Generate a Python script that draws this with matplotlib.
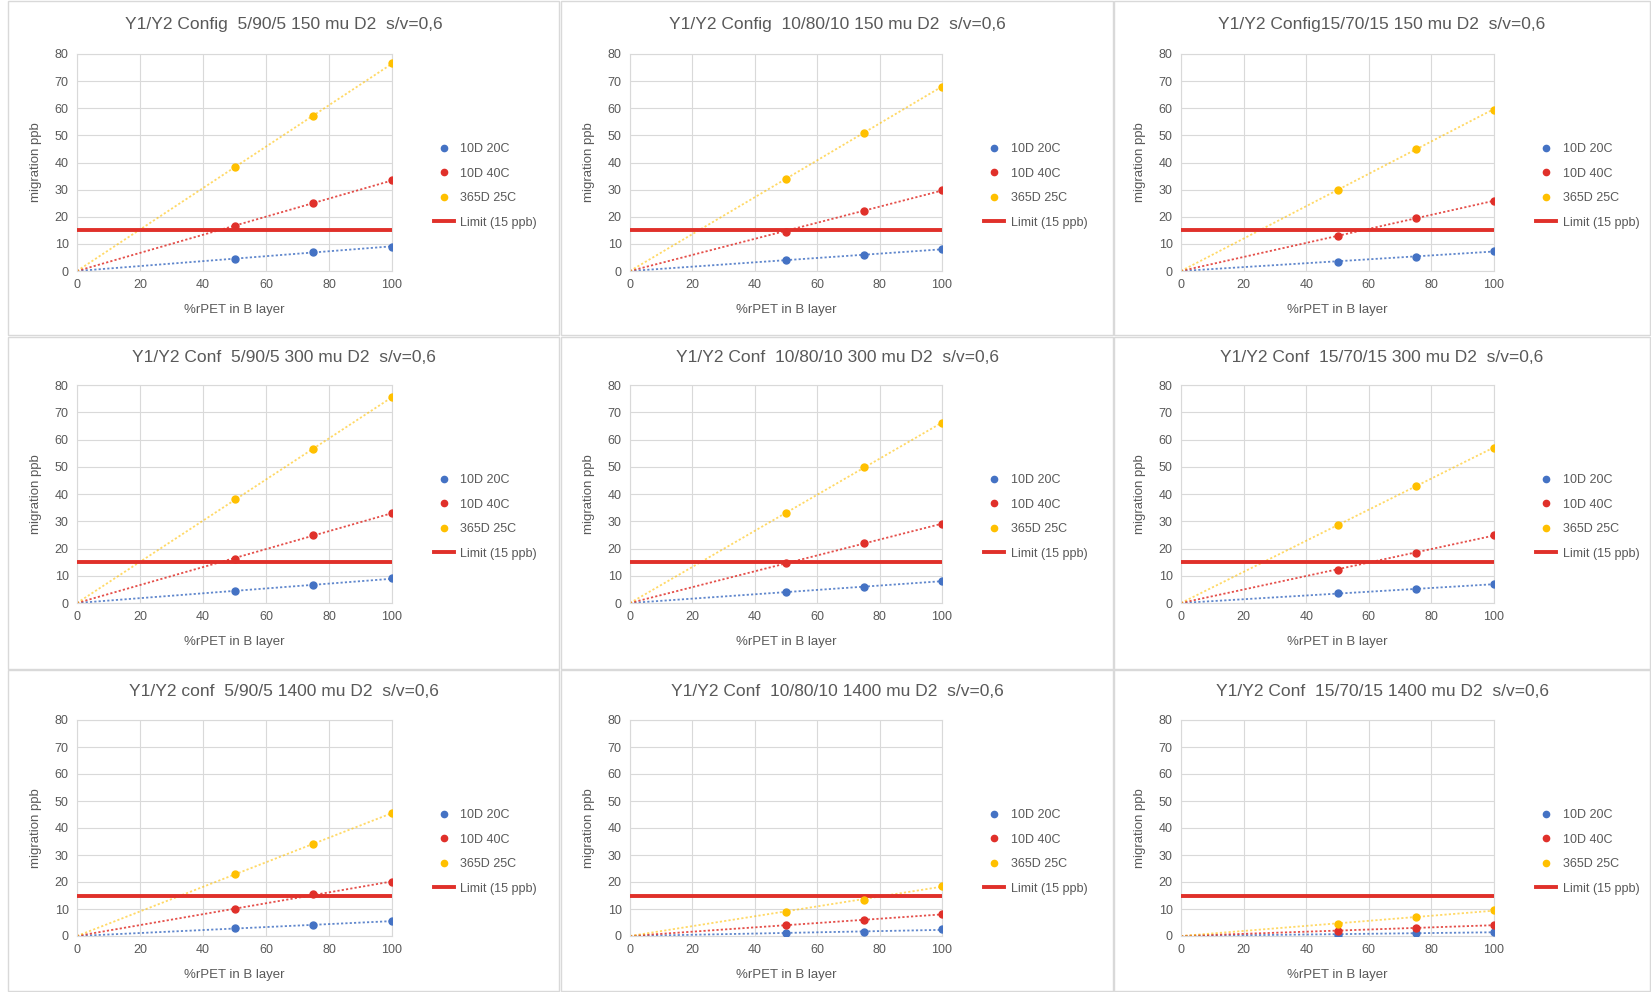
import numpy as np
import matplotlib
matplotlib.use("Agg")
import matplotlib.pyplot as plt
from matplotlib.patches import Rectangle
from matplotlib.lines import Line2D

plt.rcParams['font.family'] = ['Liberation Sans', 'DejaVu Sans']

# ---------------- data ----------------
x_rpet = [50, 75, 100]
series_names = ["10D 20C", "10D 40C", "365D 25C"]
limit_label = "Limit (15 ppb)"
limit_x = [0, 100]
limit_y = [15, 15]

titles = [
    "Y1/Y2 Config  5/90/5 150 mu D2  s/v=0,6",
    "Y1/Y2 Config  10/80/10 150 mu D2  s/v=0,6",
    "Y1/Y2 Config15/70/15 150 mu D2  s/v=0,6",
    "Y1/Y2 Conf  5/90/5 300 mu D2  s/v=0,6",
    "Y1/Y2 Conf  10/80/10 300 mu D2  s/v=0,6",
    "Y1/Y2 Conf  15/70/15 300 mu D2  s/v=0,6",
    "Y1/Y2 conf  5/90/5 1400 mu D2  s/v=0,6",
    "Y1/Y2 Conf  10/80/10 1400 mu D2  s/v=0,6",
    "Y1/Y2 Conf  15/70/15 1400 mu D2  s/v=0,6",
]

d10_20c = [
    [4.5, 7.0, 9.0],
    [4.0, 6.0, 8.0],
    [3.5, 5.3, 7.3],
    [4.5, 6.5, 9.0],
    [4.0, 6.0, 8.0],
    [3.5, 5.0, 7.0],
    [3.0, 4.0, 5.5],
    [1.0, 1.5, 2.5],
    [0.5, 1.0, 1.5],
]
d10_40c = [
    [16.5, 25.0, 33.5],
    [14.5, 22.0, 30.0],
    [13.0, 19.5, 25.8],
    [16.0, 25.0, 33.0],
    [14.5, 22.0, 29.0],
    [12.0, 18.5, 25.0],
    [10.0, 15.5, 20.0],
    [4.0, 6.0, 8.0],
    [2.0, 3.0, 4.0],
]
d365_25c = [
    [38.5, 57.0, 76.5],
    [34.0, 51.0, 68.0],
    [30.0, 45.0, 59.5],
    [38.0, 56.5, 75.5],
    [33.0, 50.0, 66.0],
    [28.5, 43.0, 57.0],
    [23.0, 34.0, 45.5],
    [9.0, 13.5, 18.5],
    [4.5, 7.0, 9.5],
]

# ---------------- style / layout ----------------
W, H = 1651, 992
colors = ["#4472C4", "#E0302A", "#FFC000"]
trend_alpha = [0.85, 0.85, 0.6]
limit_color = "#E0302A"
text_color = "#595959"
grid_color = "#D9D9D9"

col_x = [(77, 392), (630, 942), (1181, 1494)]
row_y = [(54, 271), (385, 603), (720, 936)]
panel_cols = [(8, 559), (561, 1113), (1114, 1650)]
panel_rows = [(1, 335), (337, 669), (670, 991)]
title_y = [25, 358, 692]

fig = plt.figure(figsize=(W / 100, H / 100), dpi=100)
fig.patch.set_facecolor("white")

# panel frames
for (px0, px1) in panel_cols:
    for (py0, py1) in panel_rows:
        fig.patches.append(Rectangle((px0 / W, 1 - py1 / H), (px1 - px0) / W, (py1 - py0) / H,
                                     transform=fig.transFigure, fill=False,
                                     edgecolor="#D9D9D9", linewidth=1.0))

xfit = np.array([0.0, 100.0])
for i in range(9):
    r, c = divmod(i, 3)
    x0, x1 = col_x[c]
    y80, y0 = row_y[r]
    ax = fig.add_axes([x0 / W, 1 - y0 / H, (x1 - x0) / W, (y0 - y80) / H])
    ax.set_xlim(0, 100)
    ax.set_ylim(0, 80)
    ax.set_xticks(range(0, 101, 20))
    ax.set_yticks(range(0, 81, 10))
    ax.grid(True, color=grid_color, linewidth=0.8)
    ax.set_axisbelow(True)
    for s in ax.spines.values():
        s.set_color(grid_color)
        s.set_linewidth(0.8)
    ax.tick_params(length=0, labelsize=9, colors=text_color, pad=6)

    xs = np.array(x_rpet, dtype=float)
    handles = []
    for vals, col, name, ta in zip([d10_20c[i], d10_40c[i], d365_25c[i]], colors, series_names,
                                   trend_alpha):
        ys = np.array(vals, dtype=float)
        slope = np.sum(xs * ys) / np.sum(xs * xs)
        ax.plot(xfit, slope * xfit, linestyle=(0, (1.2, 1.2)), color=col, linewidth=1.3,
                alpha=ta, zorder=2)
        ax.plot(xs, ys, linestyle="none", marker="o", markersize=5, color=col, zorder=4)
        handles.append(Line2D([], [], linestyle="none", marker="o", markersize=4.5, color=col,
                              label=name))
    ax.plot(limit_x, limit_y, color=limit_color, linewidth=2.8, zorder=3)
    handles.append(Line2D([], [], color=limit_color, linewidth=2.8, label=limit_label))

    ax.set_xlabel("%rPET in B layer", fontsize=9.5, color=text_color, labelpad=9)
    ax.set_ylabel("migration ppb", fontsize=9.5, color=text_color, labelpad=9)

    pcx0, pcx1 = panel_cols[c]
    fig.text((pcx0 + pcx1) / 2 / W, 1 - title_y[r] / H, titles[i], ha="center", va="center",
             fontsize=12.5, color=text_color)

    leg_y = 1 - (y80 + 132) / H
    fig.legend(handles=handles, loc="center left",
               bbox_to_anchor=((x1 + 36) / W, leg_y), frameon=False,
               fontsize=9, labelcolor=text_color, handlelength=1.6, handletextpad=0.5,
               labelspacing=1.0, borderpad=0)

fig.savefig("out.png", dpi=100, facecolor="white")
